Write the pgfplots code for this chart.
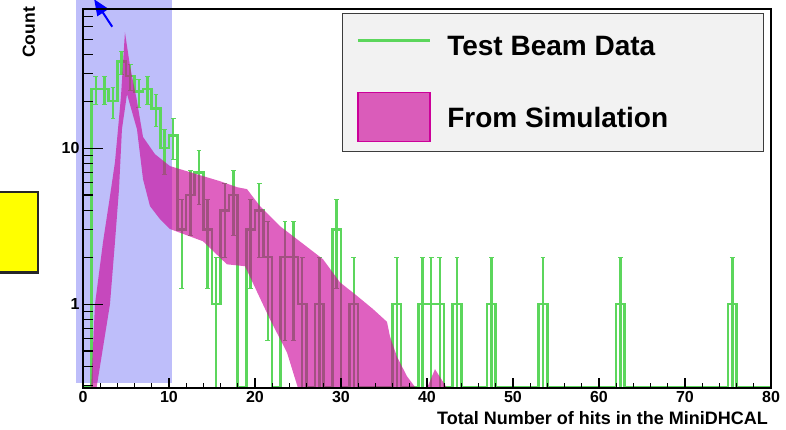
\documentclass[border=0pt]{standalone}
\usepackage{fontspec}
\setmainfont{Liberation Sans}
\usepackage{pgfplots}
\pgfplotsset{compat=1.18}
\usetikzlibrary{arrows.meta}
\definecolor{dgreen}{RGB}{92,214,92}
\definecolor{simmag}{RGB}{204,0,153}
\definecolor{hatchblue}{RGB}{190,190,250}
\definecolor{legfill}{RGB}{242,242,242}
\definecolor{yel}{RGB}{255,255,0}
\begin{document}
\begin{tikzpicture}
\begin{axis}[
  scale only axis, width=688pt, height=379pt,
  xmin=0, xmax=80, ymode=log, ymin=0.29, ymax=78,
  clip mode=individual, axis on top,
  axis line style={line width=1.2pt, black},
  tick align=inside, tick pos=left,
  xtick={0,10,...,80}, minor x tick num=4,
  ytick=\empty, minor ytick={},
  major tick length=10pt, minor tick length=5pt,
  every tick/.style={black, line width=1.2pt},
  /pgf/number format/assume math mode=true,
  tick label style={font=\fontsize{16}{16}\selectfont\bfseries},
  xlabel={Total Number of hits in the MiniDHCAL},
  xlabel style={at={(axis description cs:0.9956,-0.0976)}, anchor=base east, inner sep=0pt, font=\fontsize{18}{18}\selectfont\bfseries},
  ylabel={Count},
  ylabel style={at={(axis description cs:-0.0698,1.0053)}, anchor=base east, inner sep=0pt, font=\fontsize{17.5}{17.5}\selectfont\bfseries},
  legend style={at={(0.376,0.990)}, anchor=north west, draw={rgb,255:red,60;green,60;blue,60}, line width=1.2pt, fill=legfill,
    font=\fontsize{28}{32}\selectfont\bfseries, inner xsep=14pt, inner ysep=9pt, row sep=33pt, column sep=14pt},
  legend cell align=left,
]
\coordinate (bbsw) at (rel axis cs:-0.1206,-0.1082);
\coordinate (bbne) at (rel axis cs:1.0218,1.0237);
% blue selection region
\fill[hatchblue] (axis cs:-0.81,0.31) rectangle (axis cs:10.35,95);
% data histogram
\addplot[const plot mark left, dgreen, line width=2.6pt, mark=none,
  legend image code/.code={\draw[dgreen, line width=3pt] (0pt,0pt) -- (72pt,0pt);}]
coordinates {
(0,0.295)(1,24)(2,24)(3,20)(4,36)(5,29)(6,23)(7,24)(8,18)(9,10)
(10,12)(11,3)(12,5)(13,7)(14,3)(15,1)(16,4)(17,5)(18,0.295)(19,3)
(20,4)(21,2)(22,0.295)(23,2)(24,2)(25,1)(26,0.295)(27,1)(28,0.295)(29,3)
(30,0.295)(31,1)(32,0.295)(33,0.295)(34,0.295)(35,0.295)(36,1)(37,0.295)(38,0.295)(39,1)
(40,1)(41,1)(42,0.295)(43,1)(44,0.295)(45,0.295)(46,0.295)(47,1)(48,0.295)(49,0.295)
(50,0.295)(51,0.295)(52,0.295)(53,1)(54,0.295)(55,0.295)(56,0.295)(57,0.295)(58,0.295)(59,0.295)
(60,0.295)(61,0.295)(62,1)(63,0.295)(64,0.295)(65,0.295)(66,0.295)(67,0.295)(68,0.295)(69,0.295)
(70,0.295)(71,0.295)(72,0.295)(73,0.295)(74,0.295)(75,1)(76,0.295)(77,0.295)(78,0.295)(79,0.295)
(80,0.295)
};
\addlegendentry{\rule{0pt}{31pt}\makebox[300pt][l]{Test Beam Data}}
% error bars
\addplot[draw=none, mark=none, forget plot,
  error bars/.cd, y dir=both, y explicit,
  error bar style={dgreen, line width=2.4pt, mark size=2.4pt}]
coordinates {
(1.5,24) +- (0,4.899)
(2.5,24) +- (0,4.899)
(3.5,20) +- (0,4.472)
(4.5,36) +- (0,6)
(5.5,29) +- (0,5.385)
(6.5,23) +- (0,4.796)
(7.5,24) +- (0,4.899)
(8.5,18) +- (0,4.243)
(9.5,10) +- (0,3.162)
(10.5,12) +- (0,3.464)
(11.5,3) +- (0,1.732)
(12.5,5) +- (0,2.236)
(13.5,7) +- (0,2.646)
(14.5,3) +- (0,1.732)
(15.5,1) += (0,1) -= (0,0.999)
(16.5,4) +- (0,2)
(17.5,5) +- (0,2.236)
(19.5,3) +- (0,1.732)
(20.5,4) +- (0,2)
(21.5,2) +- (0,1.414)
(23.5,2) +- (0,1.414)
(24.5,2) +- (0,1.414)
(25.5,1) += (0,1) -= (0,0.999)
(27.5,1) += (0,1) -= (0,0.999)
(29.5,3) +- (0,1.732)
(31.5,1) += (0,1) -= (0,0.999)
(36.5,1) += (0,1) -= (0,0.999)
(39.5,1) += (0,1) -= (0,0.999)
(40.5,1) += (0,1) -= (0,0.999)
(41.5,1) += (0,1) -= (0,0.999)
(43.5,1) += (0,1) -= (0,0.999)
(47.5,1) += (0,1) -= (0,0.999)
(53.5,1) += (0,1) -= (0,0.999)
(62.5,1) += (0,1) -= (0,0.999)
(75.5,1) += (0,1) -= (0,0.999)
};
% simulation band
\addplot[draw=none, fill=simmag, fill opacity=0.62,
  legend image code/.code={\draw[fill=simmag, fill opacity=0.62, draw=simmag, line width=1.5pt] (0pt,-24pt) rectangle (72pt,25pt);}]
coordinates {
(0.93,0.28)(1.40,1.0)(2.33,2.50)(3.14,4.92)(3.72,8.13)(4.07,13.2)(4.42,21.5)(4.88,55.4)
(5.47,33.5)(6.24,20.6)(6.98,11.8)(8.37,9.15)(10.12,7.67)(13.95,6.62)(15.93,6.14)(17.91,5.62)
(19.07,5.46)(20.58,4.25)(22.91,3.16)(26.40,2.25)(27.91,1.94)(29.88,1.38)(31.86,1.13)(33.72,0.93)
(35.35,0.77)(35.70,0.62)(36.51,0.46)(37.67,0.345)(38.9,0.28)(39.3,0.2)(39.77,0.27)(40.93,0.383)
(42.67,0.27)(42.9,0.2)(25.9,0.2)
(23.72,0.49)(21.74,0.80)(18.84,1.75)(16.74,1.80)(13.95,2.53)(10.12,3.03)(8.95,3.51)(7.79,4.25)
(6.98,6.33)(6.28,13.2)(5.12,22.2)(4.53,13.2)(4.19,5.46)(3.72,2.50)(3.14,1.0)(1.53,0.28)
} -- cycle;
\addlegendentry{\makebox[300pt][l]{From Simulation}}
% annotations
\draw[line width=2.5pt, draw=black!85, fill=yel] (axis cs:-12,1.60) rectangle (axis cs:-5.23,5.22);
\draw[blue, line width=2pt, -{Triangle[length=16pt,width=13pt]}] (axis cs:3.4,60) -- (axis cs:1.3,90);
\end{axis}
% y axis ticks with ROOT-style lengths
\begin{axis}[
  scale only axis, width=688pt, height=379pt,
  xmin=0, xmax=80, ymode=log, ymin=0.29, ymax=78,
  axis x line=none, axis y line*=left,
  axis line style={line width=1.2pt, black},
  tick align=inside,
  ytick={1,10}, yticklabels={1,10},
  minor ytick={0.3,0.4,0.5,0.6,0.7,0.8,0.9,2,3,4,5,6,7,8,9,20,30,40,50,60,70},
  major tick length=20pt, minor tick length=10pt,
  every tick/.style={black, line width=1.2pt},
  tick label style={font=\fontsize{16}{16}\selectfont\bfseries},
]
\end{axis}
\pgfresetboundingbox
\useasboundingbox (bbsw) rectangle (bbne);
\end{tikzpicture}
\end{document}
